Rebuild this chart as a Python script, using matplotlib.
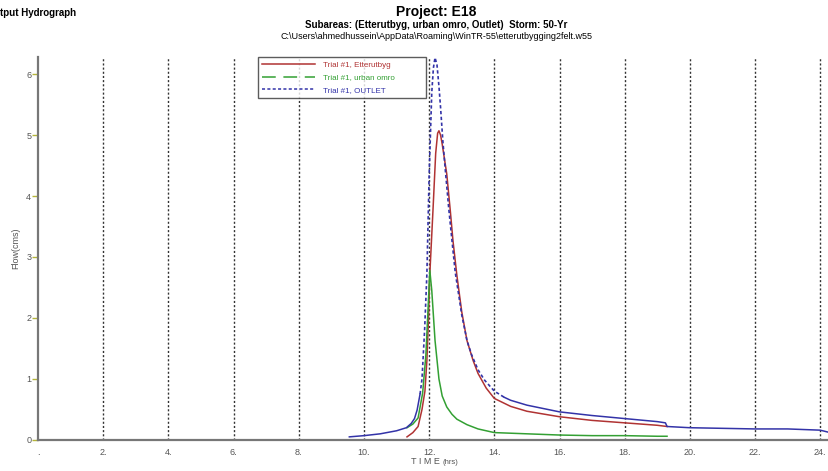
#!/usr/bin/env python3
"""
Output hydrograph, WinTR-55 style: three subarea hydrographs for a 50-yr storm.
"""

import matplotlib
matplotlib.use('Agg')
import matplotlib.pyplot as plt

plt.rcParams['font.family'] = ['Liberation Sans', 'DejaVu Sans']

# Hydrograph values (time in hrs, flow in cms)
time_etter = [11.32, 11.5, 11.66, 11.78, 11.87, 11.93, 11.98, 12.02, 12.12, 12.2,
              12.26, 12.3, 12.35, 12.4, 12.54, 12.65, 12.73, 12.85, 13.0, 13.16,
              13.35, 13.5, 13.75, 14.0, 14.5, 15.0, 16.0, 17.0, 18.0, 19.0, 19.3]
flow_etter = [0.05, 0.12, 0.22, 0.5, 0.8, 1.3, 2.0, 2.72, 3.8, 4.7,
              5.03, 5.07, 5.0, 4.85, 4.36, 3.75, 3.27, 2.7, 2.1, 1.63,
              1.3, 1.09, 0.85, 0.68, 0.55, 0.47, 0.38, 0.32, 0.28, 0.24, 0.22]

time_urban = [11.32, 11.5, 11.66, 11.8, 11.9, 11.97, 12.02, 12.08, 12.18, 12.3,
              12.4, 12.54, 12.7, 12.85, 13.16, 13.5, 14.0, 15.0, 16.0, 17.0,
              18.0, 19.0, 19.3]
flow_urban = [0.2, 0.26, 0.36, 0.77, 1.4, 2.2, 2.78, 2.45, 1.63, 1.0,
              0.72, 0.54, 0.42, 0.34, 0.25, 0.18, 0.12, 0.1, 0.08, 0.07,
              0.07, 0.06, 0.06]

time_outlet = [9.55, 10.0, 10.5, 11.0, 11.3, 11.45, 11.55, 11.63, 11.72, 11.78,
               11.86, 11.93, 12.0, 12.08, 12.13, 12.18, 12.24, 12.3, 12.35, 12.42,
               12.5, 12.6, 12.7, 12.8, 13.0, 13.16, 13.3, 13.5, 13.7, 14.0,
               14.3, 14.5, 15.0, 16.0, 17.0, 18.0, 19.0, 19.25, 19.3, 20.0,
               21.0, 22.0, 23.0, 23.5, 24.0, 24.3]
flow_outlet = [0.05, 0.07, 0.1, 0.15, 0.2, 0.27, 0.35, 0.49, 0.75, 1.0,
               1.8, 2.72, 4.36, 5.7, 6.1, 6.27, 6.15, 5.8, 5.45, 4.9,
               4.4, 3.8, 3.27, 2.75, 2.05, 1.63, 1.4, 1.15, 0.98, 0.8,
               0.7, 0.65, 0.57, 0.46, 0.4, 0.35, 0.3, 0.28, 0.22, 0.2,
               0.19, 0.18, 0.18, 0.17, 0.16, 0.12]

labels = ['Trial #1, Etterutbyg', 'Trial #1, urban omro', 'Trial #1, OUTLET']
x_ticks = [0, 2, 4, 6, 8, 10, 12, 14, 16, 18, 20, 22, 24]
y_ticks = [0, 1, 2, 3, 4, 5, 6]

COLORS = ['#b03333', '#33a033', '#3333a8']


def main():
    fig = plt.figure(figsize=(8.29, 4.71), dpi=100)
    ax = fig.add_axes([0.046, 0.066, 0.954, 0.813])

    # steep part of the outlet is drawn dashed, the flat base and tail solid
    steep = slice(8, 31)
    ax.plot(time_etter, flow_etter, color=COLORS[0], lw=1.1)
    ax.plot(time_urban, flow_urban, color=COLORS[1], lw=1.1)
    ax.plot(time_outlet[:9], flow_outlet[:9], color=COLORS[2], lw=1.1)
    ax.plot(time_outlet[steep], flow_outlet[steep], color=COLORS[2], lw=1.2,
            dashes=(2, 1.5))
    ax.plot(time_outlet[30:], flow_outlet[30:], color=COLORS[2], lw=1.1)

    # legend handles
    h1, = ax.plot([], [], color=COLORS[0], lw=1.1)
    h2, = ax.plot([], [], color=COLORS[1], lw=1.1, dashes=(9, 5))
    h3, = ax.plot([], [], color=COLORS[2], lw=1.1, dashes=(2, 1.5))

    ax.set_xlim(0, 24.27)
    ax.set_ylim(0, 6.28)
    for t in x_ticks[1:]:
        ax.axvline(t, color='#333333', lw=1.0, ls=(0, (1.5, 1.5)), zorder=0)

    ax.set_xticks(x_ticks)
    ax.set_xticklabels(['.' if t == 0 else '{}.'.format(t) for t in x_ticks])
    ax.set_yticks(y_ticks)
    ax.tick_params(axis='x', length=0, labelsize=6.5, colors='#555555', pad=6)
    ax.tick_params(axis='y', length=4, width=1, color='#b5b53a',
                   labelsize=6.5, labelcolor='#555555', pad=1)

    for side in ['top', 'right']:
        ax.spines[side].set_visible(False)
    ax.spines['left'].set_color('#777777')
    ax.spines['left'].set_linewidth(1.6)
    ax.spines['bottom'].set_color('#777777')
    ax.spines['bottom'].set_linewidth(1.6)

    ax.set_ylabel('Flow(cms)', fontsize=6.5, color='#555555', labelpad=4)
    fig.text(0.531, 0.01, 'T I M E', fontsize=6.5, color='#555555',
             ha='right', va='bottom')
    fig.text(0.534, 0.01, '(hrs)', fontsize=5.5, color='#555555',
             ha='left', va='bottom')

    leg = ax.legend([h1, h2, h3], labels, loc='upper left', mode='expand',
                    bbox_to_anchor=(0.278, 0.6, 0.212, 0.4), fontsize=5.8,
                    frameon=True, fancybox=False, edgecolor='#333333',
                    handlelength=6.5, borderpad=0.55, labelspacing=0.6,
                    handletextpad=1.0, borderaxespad=0.0)
    leg.get_frame().set_linewidth(1.0)
    for txt, c in zip(leg.get_texts(), COLORS):
        txt.set_color(c)

    fig.text(0.526, 0.975, 'Project: E18', fontsize=10, weight='bold',
             ha='center', va='center')
    fig.text(0.526, 0.947, 'Subareas: (Etterutbyg, urban omro, Outlet)  Storm: 50-Yr',
             fontsize=7, weight='bold', ha='center', va='center')
    fig.text(0.526, 0.922,
             'C:\\Users\\ahmedhussein\\AppData\\Roaming\\WinTR-55\\etterutbygging2felt.w55',
             fontsize=6.5, ha='center', va='center')
    fig.text(0.0, 0.972, 'tput Hydrograph', fontsize=7, weight='bold',
             ha='left', va='center')

    fig.savefig('out.png', dpi=100)


if __name__ == "__main__":
    main()
